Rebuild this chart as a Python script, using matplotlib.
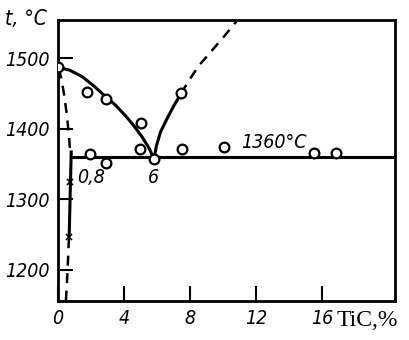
# Fe - TiC phase diagram (reproduction)
import matplotlib
matplotlib.use("Agg")
import matplotlib.pyplot as plt

# liquidus, left branch (iron side)
liq_left_x = [0, 0.7, 1.45, 2.2, 2.9, 3.5, 4.1, 4.6, 5.1, 5.5, 5.82]
liq_left_t = [1487, 1483, 1474, 1460, 1445, 1433, 1418, 1404, 1388, 1373, 1357]

# liquidus, right branch (TiC side), solid part and dashed extension
liq_right_x = [5.82, 5.95, 6.2, 6.55, 7.0, 7.45]
liq_right_t = [1357, 1375, 1395, 1412, 1432, 1450]
liq_ext_x = [7.45, 8.0, 8.55, 9.4, 10.1, 10.8]
liq_ext_t = [1450, 1471, 1490, 1513, 1532, 1552]

# solidus / solubility line near 0 %
sol_top_x = [0.05, 0.18, 0.36, 0.55, 0.67, 0.75]
sol_top_t = [1485, 1473, 1450, 1417, 1388, 1362]
sol_mid_x = [0.8, 0.74, 0.68]
sol_mid_t = [1367, 1310, 1250]
sol_low_x = [0.66, 0.58, 0.48]
sol_low_t = [1245, 1200, 1156]

# eutectic line
eut_x = [0.8, 20.4]
eut_t = [1360, 1360]

# experimental points
pts_x = [0, 1.76, 2.9, 5.03, 4.97, 5.82, 7.45, 7.5, 1.94, 2.9, 10.06, 15.5, 16.85]
pts_t = [1487, 1452, 1442, 1408, 1371, 1357, 1450, 1371, 1364, 1351, 1374, 1366, 1366]

# crosses
cross_x = [0.72, 0.65]
cross_t = [1324, 1247]

xticks = [0, 4, 8, 12, 16]
yticks = [1200, 1300, 1400, 1500]

fig = plt.figure(figsize=(4.09, 3.40), dpi=100)
ax = fig.add_axes([58 / 409, 1 - 301 / 340, (395 - 58) / 409, (301 - 20) / 340])

lw = 2.2
ax.plot(liq_left_x, liq_left_t, color="black", lw=lw)
ax.plot(liq_right_x, liq_right_t, color="black", lw=lw)
ax.plot(liq_ext_x, liq_ext_t, color="black", lw=1.8, ls=(0, (4, 3)))
ax.plot(sol_top_x, sol_top_t, color="black", lw=1.8, ls=(0, (4, 3)))
ax.plot(sol_mid_x, sol_mid_t, color="black", lw=lw)
ax.plot(sol_low_x, sol_low_t, color="black", lw=1.8, ls=(0, (4, 3)))
ax.plot(eut_x, eut_t, color="black", lw=lw)

ax.plot(pts_x, pts_t, ls="none", marker="o", ms=7, mfc="white", mec="black", mew=1.6, zorder=5)
ax.plot(cross_x, cross_t, ls="none", marker="x", ms=5, mec="black", mew=1.2, zorder=5)

tick_font = dict(fontstyle="italic", fontsize=14, fontstretch="condensed")
ax.set_xlim(0, 20.4)
ax.set_ylim(1156, 1554)
ax.set_xticks(xticks)
ax.set_yticks(yticks)
ax.set_xticklabels([str(v) for v in xticks], **tick_font)
ax.set_yticklabels([str(v) for v in yticks], **tick_font)
ax.tick_params(direction="in", length=11, width=1.5, pad=6)
for s in ax.spines.values():
    s.set_linewidth(2)

ax.text(1.15, 1331, "0,8", ha="left", va="center", **tick_font)
ax.text(5.45, 1331, "6", ha="left", va="center", **tick_font)
ax.text(11.1, 1381, "1360°C", ha="left", va="center", **tick_font)

fig.text(5 / 409, 1 - 19 / 340, "t, °C", ha="left", va="center",
         fontstyle="italic", fontsize=15, fontstretch="condensed")
fig.text(337 / 409, 1 - 320 / 340, "TiC,%", family="Liberation Serif", fontsize=17, ha="left", va="center")

fig.savefig("out.png", dpi=100)
